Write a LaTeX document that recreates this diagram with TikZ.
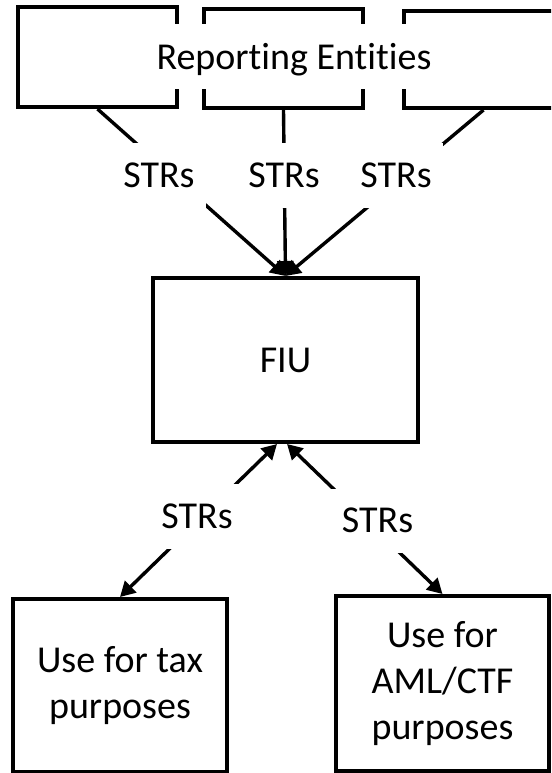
\documentclass[tikz,border=0pt]{standalone}
\usepackage{fontspec}
\setmainfont{Carlito}[Ligatures=NoCommon]
\usetikzlibrary{arrows.meta}
\begin{document}
\begin{tikzpicture}[x=1pt,y=-1pt,
  every node/.style={font=\fontsize{38pt}{46pt}\selectfont},
  box/.style={draw=black, line width=4pt, rectangle, inner sep=0pt, align=center},
  lbl/.style={fill=white, inner xsep=11pt, inner ysep=0pt, text height=44pt, text depth=20.5pt, anchor=base},
  conn/.style={draw=black, line width=3.4pt},
  >={Triangle[length=15pt,width=16pt]}]
\fill[white] (0,0) rectangle (551,773);
\useasboundingbox (0,0) rectangle (551,773);
\clip (0,0) rectangle (551,773);
% top boxes
\node[box, minimum width=159pt, minimum height=100pt] (re1) at (97.5,57) {};
\node[box, minimum width=159pt, minimum height=99pt] (re2) at (283.5,58.5) {};
\node[box, minimum width=159pt, minimum height=97pt] (re3) at (483.5,59.5) {};
\node[fill=white, inner xsep=3pt, inner ysep=0pt, text height=45.5pt, text depth=19.5pt, anchor=base] (re) at (294,69.5) {Reporting Entities};
% main boxes
\node[box, minimum width=265pt, minimum height=164pt] (fiu) at (285.5,360) {FIU};
\node[box, minimum width=214pt, minimum height=173pt] (tax) at (120,685.5) {Use for tax\\purposes};
\node[box, minimum width=213pt, minimum height=175pt] (aml) at (442.5,683.5) {Use for\\AML/CTF\\purposes};
% connectors
\draw[conn,->] (re1.south) -- (fiu.north);
\draw[conn,->] (re2.south) -- (fiu.north);
\draw[conn,->] (re3.south) -- (fiu.north);
\draw[conn,<->] (tax.north) -- ([xshift=-8.5pt]fiu.south);
\draw[conn,<->] (aml.north) -- ([xshift=1.5pt]fiu.south);
% labels
\node[lbl] (s1) at (159,187) {STRs};
\node[lbl] (s2) at (284,187) {STRs};
\node[lbl] (s3) at (396,187) {STRs};
\node[lbl] (s4) at (197,528) {STRs};
\node[lbl] (s5) at (377.5,532.5) {STRs};
\end{tikzpicture}
\end{document}
